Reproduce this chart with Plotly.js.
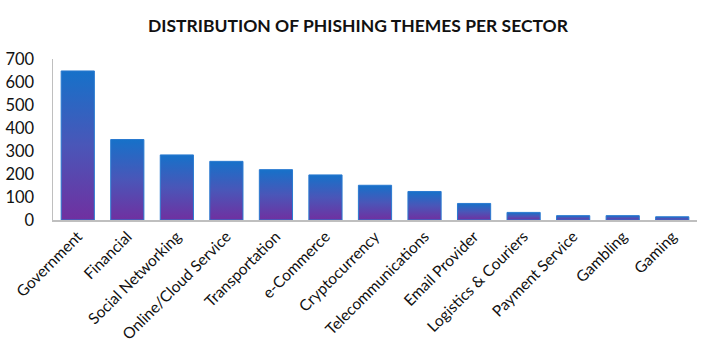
<!DOCTYPE html>
<html>
<head>
<meta charset="utf-8">
<script src="https://cdn.plot.ly/plotly-3.0.1.min.js"></script>
<style>html,body{margin:0;padding:0;background:#fff;}#chart{width:716px;height:358px;}</style>
</head>
<body>
<div id="chart"></div>
<script>
const categories = ["Government","Financial","Social Networking","Online/Cloud Service","Transportation","e-Commerce","Cryptocurrency","Telecommunications","Email Provider","Logistics & Couriers","Payment Service","Gambling","Gaming"];
const values = [648, 350, 283, 255, 219, 196, 151, 124, 72, 33, 19, 19, 14];
const yTicks = [0, 100, 200, 300, 400, 500, 600, 700];

const FONT = "Lato, 'Open Sans', sans-serif";

const trace = {
  type: "bar",
  x: categories,
  y: values,
  marker: { color: "#3f5bbb", line: { color: "#2a7ad0", width: 1 } },
  hoverinfo: "x+y"
};

const layout = {
  width: 716, height: 358,
  margin: { l: 53, r: 19, t: 59, b: 138 },
  paper_bgcolor: "#fff", plot_bgcolor: "#fff",
  title: { text: "<b>DISTRIBUTION OF PHISHING THEMES PER SECTOR</b>", font: { family: FONT, size: 17.5, color: "#111" }, x: 0.5, xanchor: "center", y: 0.928, yanchor: "middle" },
  bargap: 0.33,
  showlegend: false,
  xaxis: {
    showgrid: false, showline: true, linecolor: "#bfbfbf", linewidth: 1.5,
    tickangle: -45, ticks: "", tickfont: { family: FONT, size: 15.5, color: "#111" },
    zeroline: false
  },
  yaxis: {
    range: [0, 700], tickvals: yTicks, ticktext: yTicks.map(String),
    showgrid: false, showline: true, linecolor: "#bfbfbf", linewidth: 1.5,
    ticks: "", ticklabelstandoff: 14, tickfont: { family: FONT, size: 16.5, color: "#111" },
    zeroline: false
  }
};

function applyGradient(gd) {
  const svg = gd.querySelector("svg.main-svg");
  if (!svg) return;
  const ns = "http://www.w3.org/2000/svg";
  let defs = svg.querySelector("defs");
  if (!defs) { defs = document.createElementNS(ns, "defs"); svg.insertBefore(defs, svg.firstChild); }
  if (!svg.querySelector("#barGrad")) {
    const g = document.createElementNS(ns, "linearGradient");
    g.setAttribute("id", "barGrad");
    g.setAttribute("x1", "0"); g.setAttribute("y1", "0");
    g.setAttribute("x2", "0"); g.setAttribute("y2", "1");
    [["0", "#1671c9"], ["0.5", "#4a56b8"], ["1", "#7030a0"]].forEach(([o, c]) => {
      const s = document.createElementNS(ns, "stop");
      s.setAttribute("offset", o); s.setAttribute("stop-color", c);
      g.appendChild(s);
    });
    defs.appendChild(g);
  }
  gd.querySelectorAll(".barlayer .point path").forEach(p => { p.style.fill = "url(#barGrad)"; });
}

Plotly.newPlot("chart", [trace], layout, { displayModeBar: false, staticPlot: true }).then(gd => {
  applyGradient(gd);
  gd.on("plotly_afterplot", () => applyGradient(gd));
});
</script>
</body>
</html>
